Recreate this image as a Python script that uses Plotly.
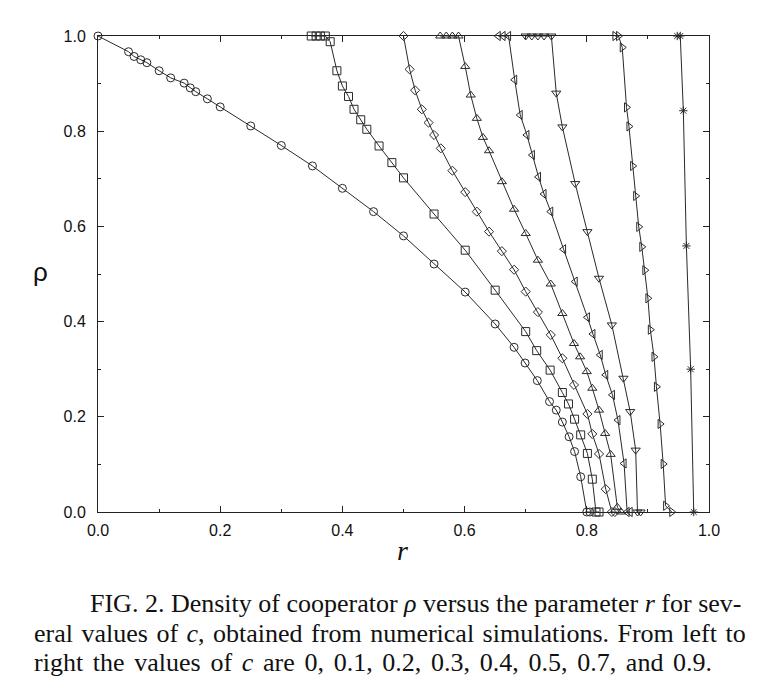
import plotly.graph_objects as go

# c = 0 (circles)
r_c0 = [0.0, 0.050, 0.059, 0.070, 0.080, 0.100, 0.119, 0.141, 0.151, 0.160, 0.179, 0.200,
        0.250, 0.300, 0.351, 0.400, 0.451, 0.500, 0.550, 0.601, 0.650, 0.681, 0.699, 0.719,
        0.739, 0.750, 0.760, 0.771, 0.780, 0.790, 0.800, 0.805]
rho_c0 = [1.0, 0.967, 0.957, 0.950, 0.944, 0.927, 0.912, 0.901, 0.891, 0.883, 0.868, 0.851,
          0.811, 0.770, 0.727, 0.680, 0.631, 0.580, 0.521, 0.462, 0.395, 0.346, 0.313, 0.276,
          0.232, 0.214, 0.189, 0.158, 0.127, 0.074, 0.0, 0.0]

# c = 0.1 (squares)
r_c1 = [0.349, 0.357, 0.364, 0.372, 0.380, 0.391, 0.400, 0.410, 0.419, 0.430, 0.440, 0.460,
        0.481, 0.500, 0.550, 0.601, 0.650, 0.700, 0.718, 0.740, 0.760, 0.770, 0.780, 0.790,
        0.801, 0.809, 0.815, 0.820]
rho_c1 = [1.0, 1.0, 1.0, 1.0, 0.988, 0.927, 0.895, 0.873, 0.846, 0.824, 0.804, 0.769,
          0.734, 0.702, 0.626, 0.550, 0.466, 0.379, 0.339, 0.298, 0.251, 0.227, 0.195, 0.162,
          0.123, 0.069, 0.0, 0.0]

# c = 0.2 (diamonds)
r_c2 = [0.500, 0.510, 0.519, 0.530, 0.541, 0.550, 0.561, 0.580, 0.601, 0.620, 0.640, 0.661,
        0.681, 0.700, 0.720, 0.741, 0.760, 0.779, 0.801, 0.809, 0.820, 0.831, 0.841, 0.846]
rho_c2 = [1.0, 0.930, 0.886, 0.846, 0.818, 0.792, 0.764, 0.717, 0.672, 0.631, 0.589, 0.548,
          0.509, 0.463, 0.420, 0.372, 0.323, 0.267, 0.206, 0.164, 0.122, 0.048, 0.0, 0.0]

# c = 0.3 (up triangles)
r_c3 = [0.560, 0.570, 0.580, 0.590, 0.601, 0.610, 0.620, 0.630, 0.640, 0.661, 0.681, 0.700,
        0.720, 0.741, 0.760, 0.779, 0.789, 0.800, 0.809, 0.820, 0.830, 0.839, 0.850, 0.856]
rho_c3 = [1.0, 1.0, 1.0, 1.0, 0.936, 0.876, 0.827, 0.787, 0.759, 0.694, 0.636, 0.585,
          0.529, 0.479, 0.417, 0.354, 0.326, 0.295, 0.260, 0.214, 0.165, 0.121, 0.010, 0.0]

# c = 0.4 (left triangles)
r_c4 = [0.655, 0.663, 0.672, 0.682, 0.691, 0.702, 0.711, 0.721, 0.730, 0.741, 0.762, 0.781,
        0.801, 0.810, 0.822, 0.831, 0.842, 0.851, 0.861, 0.866, 0.871]
rho_c4 = [1.0, 1.0, 1.0, 0.908, 0.834, 0.792, 0.750, 0.704, 0.668, 0.631, 0.552, 0.484,
          0.409, 0.374, 0.330, 0.288, 0.246, 0.193, 0.102, 0.0, 0.0]

# c = 0.5 (down triangles)
r_c5 = [0.700, 0.710, 0.720, 0.730, 0.742, 0.750, 0.760, 0.781, 0.801, 0.820, 0.841, 0.860,
        0.871, 0.880, 0.883, 0.888]
rho_c5 = [1.0, 1.0, 1.0, 1.0, 1.0, 0.880, 0.809, 0.690, 0.589, 0.491, 0.393, 0.281,
          0.211, 0.130, 0.0, 0.0]

# c = 0.7 (right triangles)
r_c7 = [0.846, 0.852, 0.858, 0.865, 0.869, 0.875, 0.880, 0.885, 0.890, 0.895, 0.900, 0.904,
        0.910, 0.914, 0.920, 0.925, 0.929, 0.939]
rho_c7 = [1.0, 1.0, 0.976, 0.850, 0.810, 0.727, 0.664, 0.599, 0.557, 0.508, 0.449, 0.383,
          0.326, 0.263, 0.185, 0.101, 0.013, 0.0]

# c = 0.9 (asterisks)
r_c9 = [0.948, 0.953, 0.958, 0.963, 0.970, 0.975]
rho_c9 = [1.0, 1.0, 0.843, 0.559, 0.300, 0.0]

series = [
    (r_c0, rho_c0, "circle-open", 8),
    (r_c1, rho_c1, "square-open", 8),
    (r_c2, rho_c2, "diamond-open", 7),
    (r_c3, rho_c3, "triangle-up-open", 8),
    (r_c4, rho_c4, "triangle-left-open", 8),
    (r_c5, rho_c5, "triangle-down-open", 8),
    (r_c7, rho_c7, "triangle-right-open", 8),
    (r_c9, rho_c9, "asterisk-open", 7),
]

x_ticks = [0.0, 0.2, 0.4, 0.6, 0.8, 1.0]
y_ticks = [0.0, 0.2, 0.4, 0.6, 0.8, 1.0]

fig = go.Figure()
for xs, ys, sym, sz in series:
    fig.add_trace(go.Scatter(
        x=xs, y=ys, mode="lines+markers",
        line=dict(color="#2a2a2a", width=1),
        marker=dict(symbol=sym, size=sz, color="#2a2a2a", line=dict(width=1, color="#2a2a2a")),
        cliponaxis=False, showlegend=False,
    ))

OFF = 8  # page body margin
W, H = 781 - OFF, 695 - OFF
L, R, T, B = 98 - OFF, 72, 36 - OFF, 183
pw, ph = W - L - R, H - T - B

def px(xp):
    return (xp - OFF - L) / pw

def py(yp):
    return (H - B - (yp - OFF)) / ph

axis_common = dict(
    range=[0, 1], showgrid=False, zeroline=False, showline=True, linecolor="#222222",
    linewidth=1, mirror="ticks", ticks="inside", ticklen=6, tickcolor="#222222",
    tickformat=".1f", tickfont=dict(family="Liberation Sans, Arial", size=16, color="#111111"),
    minor=dict(ticks="inside", ticklen=3, dtick=0.1, tickcolor="#222222"),
)

fig.update_layout(
    width=W, height=H, autosize=False,
    margin=dict(l=L, r=R, t=T, b=B),
    paper_bgcolor="white", plot_bgcolor="white",
    xaxis=dict(tickvals=x_ticks, ticklabelstandoff=4, **axis_common),
    yaxis=dict(tickvals=y_ticks, ticklabelstandoff=8, **axis_common),
)

ann = [
    dict(x=px(402), y=py(550), text="<i>r</i>", font=dict(family="Liberation Serif", size=28, color="#111")),
    dict(x=px(40), y=py(272), text="ρ", font=dict(family="Liberation Sans", size=26, color="#111")),
]
cap_font = dict(family="Liberation Serif", size=26, color="#111111")
captions = [
    (88, 603, 0.0, "FIG. 2. Density of cooperator <i>ρ</i> versus the parameter <i>r</i> for sev-"),
    (32, 633, 2.0, "eral values of <i>c</i>, obtained from numerical simulations. From left to"),
    (32, 662, 3.2, "right the values of <i>c</i> are 0, 0.1, 0.2, 0.3, 0.4, 0.5, 0.7, and 0.9."),
]
for xp, yp, ws, t in captions:
    ann.append(dict(x=px(xp), y=py(yp), xanchor="left", font=cap_font,
                    text='<span style="word-spacing:%.1fpx">%s</span>' % (ws, t)))

for a in ann:
    a.setdefault("xanchor", "center")
    a.update(xref="paper", yref="paper", yanchor="middle", showarrow=False)
fig.update_layout(annotations=ann)

fig.write_html("out.html")
